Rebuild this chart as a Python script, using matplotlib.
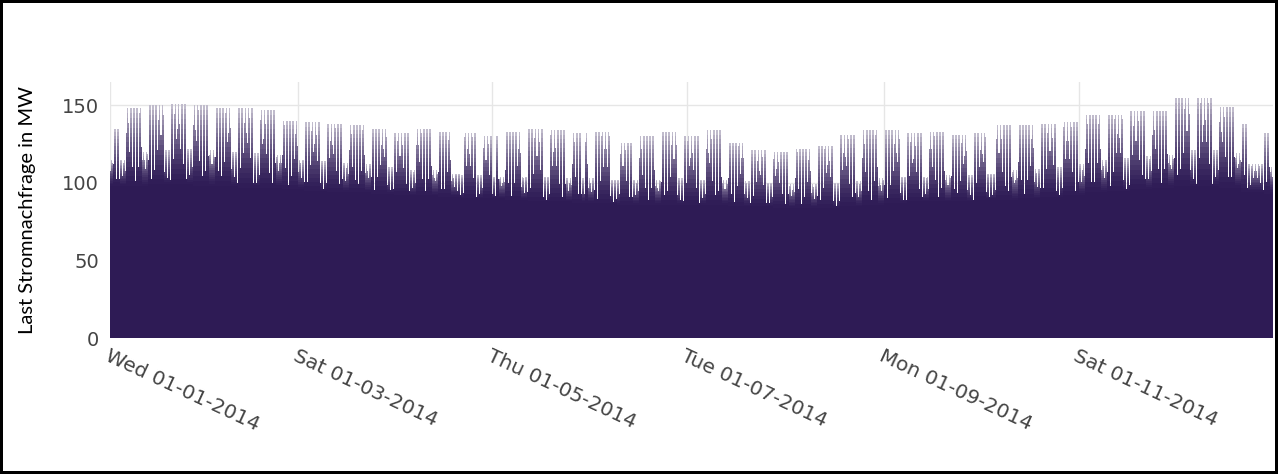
import numpy as np
import pandas as pd
import matplotlib
matplotlib.use('Agg')
from matplotlib import pyplot as plt
import matplotlib.dates as mdates

# Werte pro Woche (Woche 0 = Mi 01.01. - So 05.01.2014)
weekday_peak = [135, 148, 150, 151, 150, 148, 148, 147, 140, 139,
                138, 137, 135, 132, 135, 133, 132, 130, 133, 135,
                134, 132, 133, 126, 130, 133, 130, 134, 126, 121,
                120, 122, 124, 131, 134, 134, 132, 133, 131, 132,
                137, 137, 138, 139, 144, 144, 146, 146, 155, 155,
                149, 138, 132]
weekend_peak = [115, 120, 121, 122, 121, 120, 119, 118, 115, 114,
                113, 112, 110, 108, 108, 106, 105, 104, 104, 104,
                103, 103, 102, 102, 102, 103, 102, 102, 101, 100,
                99, 99, 100, 101, 103, 104, 104, 105, 105, 106,
                108, 109, 110, 112, 115, 116, 117, 118, 121, 121,
                119, 112, 110]
night_low = [98, 98, 99, 99, 98, 98, 97, 97, 96, 95,
             94, 94, 93, 92, 92, 91, 90, 90, 89, 88,
             88, 87, 87, 86, 86, 86, 86, 86, 85, 85,
             84, 84, 84, 85, 86, 87, 88, 88, 88, 89,
             89, 90, 91, 92, 94, 95, 96, 97, 98, 98,
             97, 94, 93]
holidays = ['2014-01-01', '2014-04-18', '2014-04-21', '2014-05-01', '2014-05-29',
            '2014-06-09', '2014-10-03', '2014-12-24', '2014-12-25', '2014-12-26',
            '2014-12-31']
tick_dates = ['2014-01-01', '2014-03-01', '2014-05-01', '2014-07-01',
              '2014-09-01', '2014-11-01']
y_ticks = [0, 50, 100, 150]

days = pd.date_range('2014-01-01', '2014-12-31', freq='D')
week = (np.arange(len(days)) + 2) // 7
workday = (days.dayofweek < 5) & ~days.isin(pd.to_datetime(holidays))
peak = np.where(workday, np.array(weekday_peak)[week], np.array(weekend_peak)[week])
low = np.array(night_low)[week]

dark = np.array([0.18, 0.105, 0.335])
white = np.array([1.0, 1.0, 1.0])

fig = plt.figure(figsize=(12.78, 4.74), dpi=100, edgecolor='black', linewidth=3)
ax = fig.add_axes([0.0861, 0.2869, 0.9100, 0.5401])

x = mdates.date2num(days) + 0.5

# Spitzen als gestufte Balken, oben heller und schmaler
n_layers = 16
for k in range(n_layers, 0, -1):
    frac = k / n_layers
    top = low + (peak - low) * frac
    width = 1.0 - 0.5 * (k - 1) / (n_layers - 1)
    t = 0.7 * frac ** 1.6
    ax.bar(x, top, width=width, color=dark * (1 - t) + white * t, linewidth=0, zorder=2)
ax.bar(x, low, width=1.05, color=dark, linewidth=0, zorder=3)

ax.set_xlim(mdates.date2num(days[0]), mdates.date2num(days[-1]) + 1)
ax.set_ylim(0, 165)

ticks = pd.to_datetime(tick_dates)
ax.set_xticks(mdates.date2num(ticks))
ax.set_xticklabels([d.strftime('%a %d-%m-%Y') for d in ticks])
ax.set_yticks(y_ticks)
ax.set_yticklabels([str(v) for v in y_ticks])

ax.grid(True, color='#e6e6e6', linewidth=1, zorder=0)
ax.set_axisbelow(True)
for s in ax.spines.values():
    s.set_visible(False)
ax.tick_params(length=0, colors='#444444', labelsize=14)
ax.tick_params(axis='x', pad=6, labelsize=14.5)
plt.setp(ax.get_xticklabels(), rotation=-25, ha='left', va='top', rotation_mode='anchor')
ax.tick_params(axis='y', pad=8)

ax.set_ylabel('Last Stromnachfrage in MW', fontsize=14.5, family=['Lato', 'DejaVu Sans'], color='black')
ax.yaxis.set_label_coords(-0.064, 0.5)

fig.savefig('out.png', dpi=100)
